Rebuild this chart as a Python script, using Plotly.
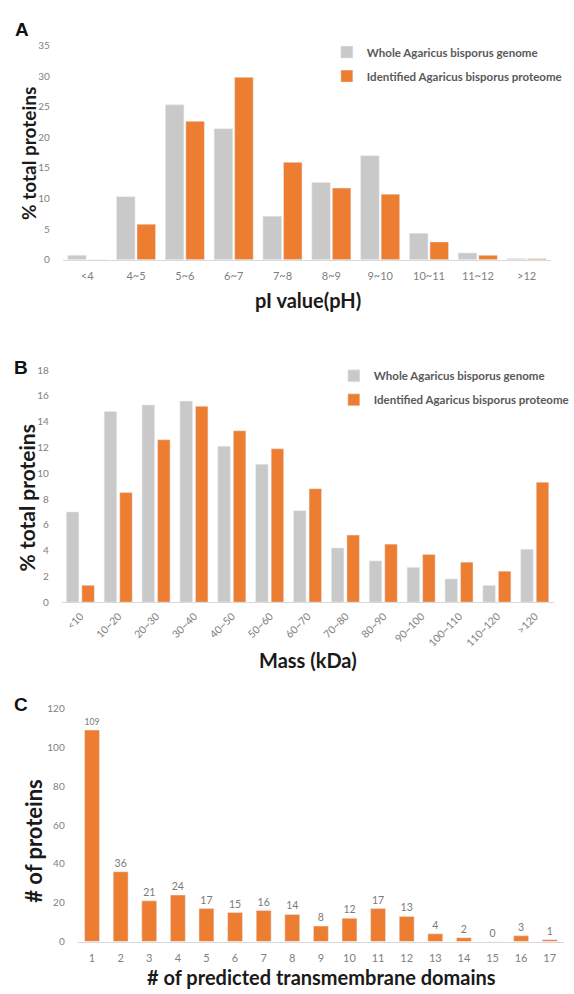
import plotly.graph_objects as go

# ---- data -------------------------------------------------------------
ph_bins = ["<4", "4~5", "5~6", "6~7", "7~8", "8~9", "9~10", "10~11", "11~12", ">12"]
ph_genome = [0.7, 10.3, 25.3, 21.4, 7.1, 12.6, 17.0, 4.3, 1.1, 0.2]
ph_proteome = [0.0, 5.8, 22.6, 29.8, 15.9, 11.7, 10.7, 2.9, 0.7, 0.15]

mass_bins = ["<10", "10~20", "20~30", "30~40", "40~50", "50~60", "60~70",
             "70~80", "80~90", "90~100", "100~110", "110~120", ">120"]
mass_genome = [7.0, 14.8, 15.3, 15.6, 12.1, 10.7, 7.1, 4.2, 3.2, 2.7, 1.8, 1.3, 4.1]
mass_proteome = [1.3, 8.5, 12.6, 15.2, 13.3, 11.9, 8.8, 5.2, 4.5, 3.7, 3.1, 2.4, 9.3]

tm_domains = ["1", "2", "3", "4", "5", "6", "7", "8", "9", "10",
              "11", "12", "13", "14", "15", "16", "17"]
tm_counts = [109, 36, 21, 24, 17, 15, 16, 14, 8, 12, 17, 13, 4, 2, 0, 3, 1]

series_names = ["Whole Agaricus bisporus genome", "Identified Agaricus bisporus proteome"]

# ---- style ------------------------------------------------------------
W, H = 574, 994
GRAY = "#C9C9C9"
ORANGE = "#ED7D31"
Y_TICK_FONT = dict(family="Lato", size=10, color="#808080")
X_TICK_FONT = dict(family="Lato", size=11, color="#808080")
TITLE_FONT = "Lato"


def px_x(p):
    return p / W


def px_y(p):
    return 1 - p / H


def bold(s):
    return "<b>" + s + "</b>"


fig = go.Figure()

# Panel A: pI distribution
fig.add_trace(go.Bar(x=ph_bins, y=ph_genome, name=bold(series_names[0]), marker_color=GRAY,
                     offset=-0.40, width=0.38, xaxis="x", yaxis="y",
                     legend="legend", legendgroup="a1"))
fig.add_trace(go.Bar(x=ph_bins, y=ph_proteome, name=bold(series_names[1]), marker_color=ORANGE,
                     offset=0.02, width=0.38, xaxis="x", yaxis="y",
                     legend="legend", legendgroup="a2"))

# Panel B: molecular mass distribution
fig.add_trace(go.Bar(x=mass_bins, y=mass_genome, name=bold(series_names[0]), marker_color=GRAY,
                     offset=-0.38, width=0.33, xaxis="x2", yaxis="y2",
                     legend="legend2", legendgroup="b1"))
fig.add_trace(go.Bar(x=mass_bins, y=mass_proteome, name=bold(series_names[1]), marker_color=ORANGE,
                     offset=0.03, width=0.33, xaxis="x2", yaxis="y2",
                     legend="legend2", legendgroup="b2"))

# Panel C: transmembrane domain counts
fig.add_trace(go.Bar(x=tm_domains, y=tm_counts, marker_color=ORANGE, width=0.52,
                     text=tm_counts, textposition="outside", cliponaxis=False,
                     textfont=dict(family="Lato", size=10.5, color="#7A7A7A"),
                     xaxis="x3", yaxis="y3", showlegend=False))

xcommon = dict(showgrid=False, zeroline=False, showline=True, linecolor="#D9D9D9",
               linewidth=1, ticks="", fixedrange=True)
ycommon = dict(showgrid=False, zeroline=False, showline=False, ticks="",
               tickfont=Y_TICK_FONT, ticklabelstandoff=12, fixedrange=True)

legend_common = dict(xanchor="left", yanchor="top", bgcolor="rgba(0,0,0,0)",
                     font=dict(family="Lato", size=11.5, color="#595959"),
                     tracegroupgap=5, itemclick=False, itemdoubleclick=False)

fig.update_layout(
    width=W, height=H,
    margin=dict(l=0, r=0, t=0, b=0),
    paper_bgcolor="white", plot_bgcolor="white",
    barmode="group",
    xaxis=dict(domain=[px_x(63), px_x(553)], anchor="y", ticklabelstandoff=6,
               tickfont=X_TICK_FONT, **xcommon),
    yaxis=dict(domain=[px_y(256), px_y(39)], anchor="x", range=[0, 35],
               tickvals=[0, 5, 10, 15, 20, 25, 30, 35], **ycommon),
    xaxis2=dict(domain=[px_x(62), px_x(556)], anchor="y2", tickangle=-45,
                ticklabelstandoff=3, tickfont=dict(X_TICK_FONT, size=10.5), **xcommon),
    yaxis2=dict(domain=[px_y(603), px_y(368)], anchor="x2", range=[0, 18],
                tickvals=[0, 2, 4, 6, 8, 10, 12, 14, 16, 18], **ycommon),
    xaxis3=dict(domain=[px_x(78), px_x(566)], anchor="y3", ticklabelstandoff=6,
                tickfont=X_TICK_FONT, **xcommon),
    yaxis3=dict(domain=[px_y(947), px_y(711)], anchor="x3", range=[0, 120],
                tickvals=[0, 20, 40, 60, 80, 100, 120], **ycommon),
    legend=dict(x=px_x(328), y=px_y(31), **legend_common),
    legend2=dict(x=px_x(335), y=px_y(359), **legend_common),
)


def label(text, x, y, size, angle=0, family=TITLE_FONT, color="#1A1A1A"):
    fig.add_annotation(text=bold(text), x=px_x(x), y=px_y(y), xref="paper", yref="paper",
                       showarrow=False, textangle=angle, xanchor="center", yanchor="middle",
                       font=dict(family=family, size=size, color=color, weight=900))


# panel letters
label("A", 22, 23, 19, family="Liberation Sans", color="#111111")
label("B", 21, 365, 19, family="Liberation Sans", color="#111111")
label("C", 21, 707, 19, family="Liberation Sans", color="#111111")

# axis titles
label("% total proteins", 28, 148, 19, angle=-90)
label("pI value(pH)", 309, 297, 20)
label("% total proteins", 27, 497, 21, angle=-90)
label("Mass (kDa)", 309, 662, 20)
label("# of proteins", 34, 845, 22, angle=-90)
label("# of predicted transmembrane domains", 323, 983, 20)

fig.write_html("out.html")
